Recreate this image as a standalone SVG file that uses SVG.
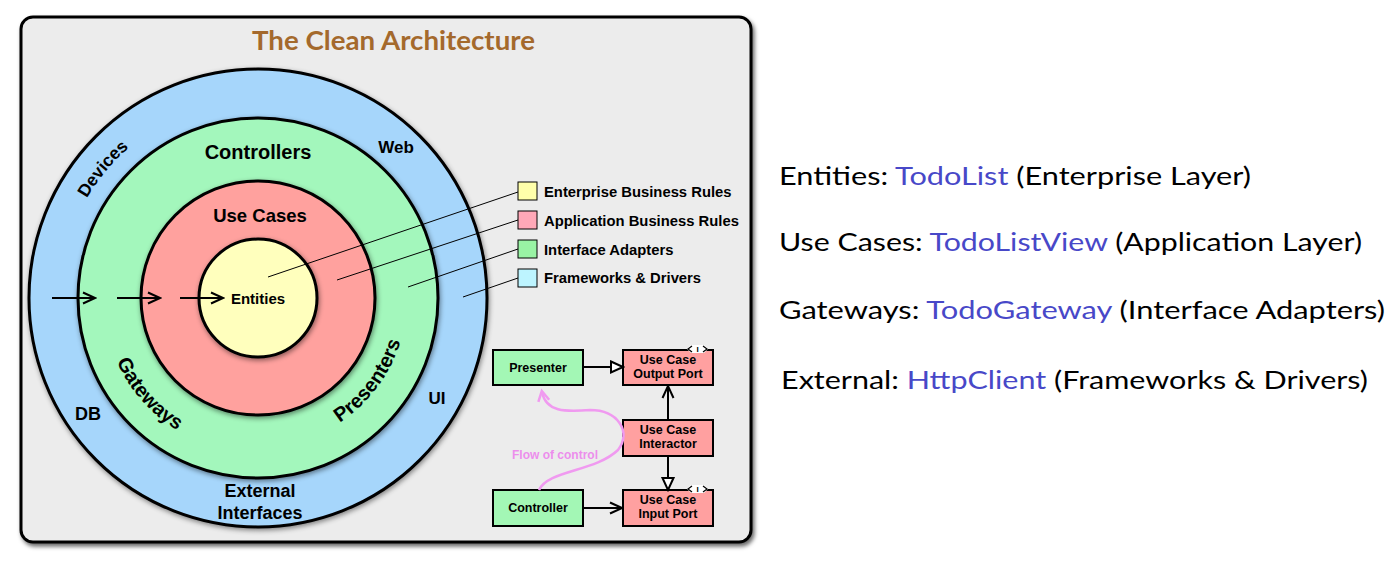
<svg xmlns="http://www.w3.org/2000/svg" width="1400" height="567" viewBox="0 0 1400 567">
<style>
.lbl{font-family:"Liberation Sans",Arial,sans-serif;font-weight:bold;fill:#000}
.ring{stroke:#000;stroke-width:3}
.box{stroke:#000;stroke-width:2}
.lead{stroke:#000;stroke-width:1;fill:none}
.conn{stroke:#000;stroke-width:2;fill:none}
.rt{font-family:Lato,"Open Sans",sans-serif;font-size:25px;fill:#000}
.blue{fill:#4848c8}
.iface{fill:#fff;stroke:none}
.ichev{fill:none;stroke:#000;stroke-width:1.2}
</style>
<defs>
<filter id="sh" x="-5%" y="-5%" width="115%" height="115%"><feDropShadow dx="2" dy="3" stdDeviation="2" flood-color="#000" flood-opacity="0.6"/></filter>
<filter id="sh2" x="-10%" y="-10%" width="125%" height="125%"><feDropShadow dx="1" dy="2" stdDeviation="2.5" flood-color="#000" flood-opacity="0.45"/></filter>
<marker id="chev" markerUnits="userSpaceOnUse" markerWidth="16" markerHeight="16" viewBox="0 0 16 16" refX="14" refY="8" orient="auto"><path d="M2,2.5 L14,8 L2,13.5" fill="none" stroke="#000" stroke-width="2"/></marker>
<marker id="tri" markerUnits="userSpaceOnUse" markerWidth="16" markerHeight="16" viewBox="0 0 16 16" refX="14" refY="8" orient="auto"><path d="M2,2.5 L14,8 L2,13.5 Z" fill="#fff" stroke="#000" stroke-width="2"/></marker>
<marker id="pink" markerUnits="userSpaceOnUse" markerWidth="14" markerHeight="14" viewBox="0 0 14 14" refX="10" refY="7" orient="auto"><path d="M1,1.5 L11,7 L1,12.5" fill="none" stroke="#f09af0" stroke-width="2.5"/></marker>
<path id="pDev" d="M 60 298 A 198 198 0 0 1 456 298"/>
<path id="pGate" d="M 103 298 A 155 155 0 0 0 413 298"/>
<path id="pPres" d="M 109 298 A 149 149 0 0 0 407 298"/>
</defs>

<g id="frame">
<rect x="21" y="17" width="730" height="525" rx="12" fill="#ececec" stroke="#000" stroke-width="3" filter="url(#sh)"/>
</g>
<g id="title">
<text x="252" y="50" font-family="Lato,'Open Sans',sans-serif" font-weight="bold" font-size="26" fill="#a4692c" textLength="283" lengthAdjust="spacingAndGlyphs">The Clean Architecture</text>
</g>

<g id="ring-frameworks">
<circle cx="258" cy="298" r="229" fill="#a6d6fb" class="ring" filter="url(#sh2)"/>
</g>
<g id="ring-adapters">
<circle cx="258" cy="298" r="180" fill="#a3f7bc" class="ring" filter="url(#sh2)"/>
</g>
<g id="ring-usecases">
<circle cx="258" cy="298" r="117" fill="#ffa19e" class="ring" filter="url(#sh2)"/>
</g>
<g id="ring-entities">
<circle cx="258" cy="298" r="59" fill="#ffffbd" class="ring" filter="url(#sh2)"/>
</g>

<g id="ring-labels">
<text class="lbl" x="258" y="159" font-size="20" text-anchor="middle">Controllers</text>
<text class="lbl" x="260" y="222" font-size="18.5" text-anchor="middle">Use Cases</text>
<text class="lbl" x="258" y="304" font-size="15" text-anchor="middle">Entities</text>
<text class="lbl" x="396" y="153" font-size="17" text-anchor="middle">Web</text>
<text class="lbl" x="88" y="420" font-size="18" text-anchor="middle">DB</text>
<text class="lbl" x="437" y="404" font-size="17" text-anchor="middle">UI</text>
<text class="lbl" x="260" y="497" font-size="18" text-anchor="middle">External</text>
<text class="lbl" x="260" y="519" font-size="18" text-anchor="middle">Interfaces</text>
<text class="lbl" font-size="17.5"><textPath href="#pDev" startOffset="22.1%" text-anchor="middle">Devices</textPath></text>
<text class="lbl" font-size="20"><textPath href="#pGate" startOffset="23%" text-anchor="middle">Gateways</textPath></text>
<text class="lbl" font-size="20"><textPath href="#pPres" startOffset="79.5%" text-anchor="middle">Presenters</textPath></text>
</g>

<g id="legend">
<g id="leg-enterprise"><rect x="518" y="182" width="19" height="18" fill="#ffffaa" stroke="#000" stroke-width="1"/><text class="lbl" x="544" y="197" font-size="14.8">Enterprise Business Rules</text></g>
<g id="leg-application"><rect x="518" y="211" width="19" height="18" fill="#ffa8b8" stroke="#000" stroke-width="1"/><text class="lbl" x="544" y="226" font-size="14.8">Application Business Rules</text></g>
<g id="leg-adapters"><rect x="518" y="240" width="19" height="18" fill="#99f3a4" stroke="#000" stroke-width="1"/><text class="lbl" x="544" y="255" font-size="14.8">Interface Adapters</text></g>
<g id="leg-frameworks"><rect x="518" y="269" width="19" height="18" fill="#bdf4ff" stroke="#000" stroke-width="1"/><text class="lbl" x="544" y="283" font-size="14.8">Frameworks &amp; Drivers</text></g>
</g>

<g id="flow-nodes">
<g id="presenter"><rect x="493" y="350" width="90" height="35" fill="#a3f7b5" class="box"/><text class="lbl" x="538" y="372" font-size="12.5" text-anchor="middle">Presenter</text></g>
<g id="output-port"><rect x="623" y="350" width="90" height="35" fill="#ffa0a0" class="box"/><text class="lbl" x="668" y="364" font-size="12.5" text-anchor="middle">Use Case</text><text class="lbl" x="668" y="378" font-size="12.5" text-anchor="middle">Output Port</text>
<polygon class="iface" points="687,349 691,345 704,345 708,349 704,353 691,353"/><polyline class="ichev" points="692,346 688,349 692,352"/><polyline class="ichev" points="703,346 707,349 703,352"/><text class="lbl" x="697.5" y="352" font-size="8" text-anchor="middle">I</text></g>
<g id="interactor"><rect x="623" y="420" width="90" height="36" fill="#ffa0a0" class="box"/><text class="lbl" x="668" y="434" font-size="12.5" text-anchor="middle">Use Case</text><text class="lbl" x="668" y="448" font-size="12.5" text-anchor="middle">Interactor</text></g>
<g id="controller"><rect x="493" y="490" width="90" height="36" fill="#a3f7b5" class="box"/><text class="lbl" x="538" y="512" font-size="12.5" text-anchor="middle">Controller</text></g>
<g id="input-port"><rect x="623" y="490" width="90" height="36" fill="#ffa0a0" class="box"/><text class="lbl" x="668" y="504" font-size="12.5" text-anchor="middle">Use Case</text><text class="lbl" x="668" y="518" font-size="12.5" text-anchor="middle">Input Port</text>
<polygon class="iface" points="687,489 691,485 704,485 708,489 704,493 691,493"/><polyline class="ichev" points="692,486 688,489 692,492"/><polyline class="ichev" points="703,486 707,489 703,492"/><text class="lbl" x="697.5" y="492" font-size="8" text-anchor="middle">I</text></g>
</g>

<g id="connectors">
<line class="conn" x1="52" y1="298" x2="95" y2="298" marker-end="url(#chev)"/>
<line class="conn" x1="117" y1="298" x2="160" y2="298" marker-end="url(#chev)"/>
<line class="conn" x1="180" y1="298" x2="223" y2="298" marker-end="url(#chev)"/>
<line class="lead" x1="518" y1="192" x2="268" y2="277"/>
<line class="lead" x1="518" y1="220" x2="337" y2="280"/>
<line class="lead" x1="518" y1="249" x2="408" y2="287"/>
<line class="lead" x1="518" y1="278" x2="463" y2="297"/>
<line class="conn" x1="583" y1="367" x2="623" y2="367" marker-end="url(#tri)"/>
<line class="conn" x1="668" y1="420" x2="668" y2="386" marker-end="url(#chev)"/>
<line class="conn" x1="668" y1="456" x2="668" y2="490" marker-end="url(#tri)"/>
<line class="conn" x1="583" y1="508" x2="622" y2="508" marker-end="url(#chev)"/>
<path d="M 539 490 C 548 470 595 472 618 450 C 632 432 618 410 590 410 C 565 412 546 412 542 392" fill="none" stroke="#f09af0" stroke-width="2.5" marker-end="url(#pink)"/>
<text x="512" y="459" font-family="'Liberation Sans',Arial,sans-serif" font-weight="bold" font-size="12" fill="#ec8eec">Flow of control</text>
</g>

<g id="mapping">
<text class="rt" x="779" y="185" textLength="472" lengthAdjust="spacingAndGlyphs">Entities: <tspan class="blue">TodoList</tspan> (Enterprise Layer)</text>
<text class="rt" x="779" y="251" textLength="583" lengthAdjust="spacingAndGlyphs">Use Cases: <tspan class="blue">TodoListView</tspan> (Application Layer)</text>
<text class="rt" x="779" y="319" textLength="606" lengthAdjust="spacingAndGlyphs">Gateways: <tspan class="blue">TodoGateway</tspan> (Interface Adapters)</text>
<text class="rt" x="781" y="389" textLength="587" lengthAdjust="spacingAndGlyphs">External: <tspan class="blue">HttpClient</tspan> (Frameworks &amp; Drivers)</text>
</g>
</svg>
